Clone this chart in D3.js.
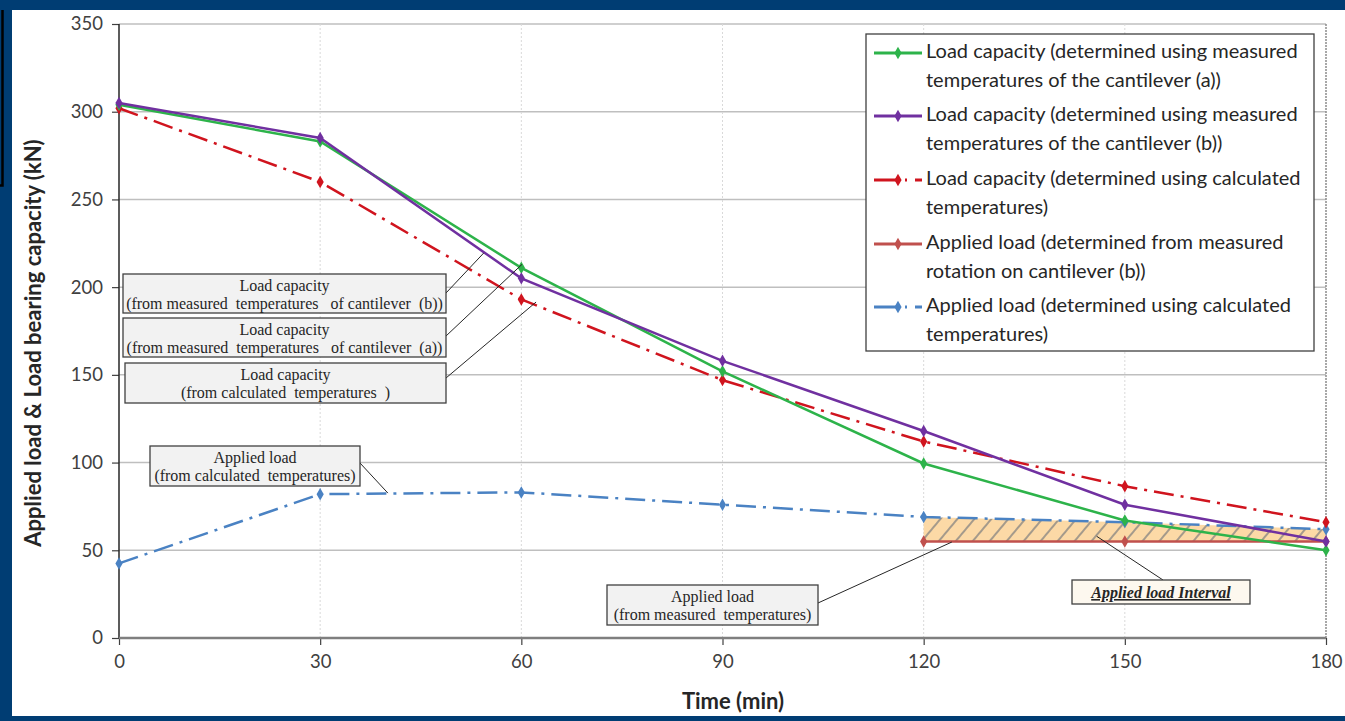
<!DOCTYPE html>
<html>
<head>
<meta charset="utf-8">
<script src="https://cdn.jsdelivr.net/npm/d3@7"></script>
<style>
  body { margin: 0; background: #003d73; }
  svg { display: block; }
</style>
</head>
<body>
<script>
// data
const times = [0, 30, 60, 90, 120, 150, 180];
const capA = [304, 283, 211, 152, 99.5, 67, 50];      // measured temps, cantilever (a)
const capB = [305, 285, 205, 158, 118, 76, 55];       // measured temps, cantilever (b)
const capCalc = [302, 260, 193, 147, 112, 86.5, 66];  // calculated temps
const loadMeasTimes = [120, 150, 180];
const loadMeas = [55, 55, 55];                        // applied load, measured rotation
const loadCalc = [42.5, 82, 83, 76, 69, 66, 62];      // applied load, calculated temps
const yTicks = [0, 50, 100, 150, 200, 250, 300, 350];
const xTicks = [0, 30, 60, 90, 120, 150, 180];

const legendLabels = [
  ["Load capacity (determined using measured", "temperatures of the cantilever (a))"],
  ["Load capacity (determined using measured", "temperatures of the cantilever (b))"],
  ["Load capacity (determined using calculated", "temperatures)"],
  ["Applied load (determined from measured", "rotation on cantilever (b))"],
  ["Applied load (determined using calculated", "temperatures)"]
];

const W = 1345, H = 721;
const svg = d3.select("body").append("svg").attr("width", W).attr("height", H);

// frame
svg.append("rect").attr("width", W).attr("height", H).attr("fill", "#003d73");
svg.append("rect").attr("x", 12).attr("y", 10).attr("width", W - 12).attr("height", 706).attr("fill", "#fff");
svg.append("path").attr("d", "M0,185.5 H2.5 V10").attr("fill", "none").attr("stroke", "#000").attr("stroke-width", 2.5);

const x = d3.scaleLinear().domain([0, 180]).range([119, 1326]);
const y = d3.scaleLinear().domain([0, 350]).range([638, 24]);

// hatch pattern for the applied load interval
const defs = svg.append("defs");
const pat = defs.append("pattern")
  .attr("id", "hatch")
  .attr("patternUnits", "userSpaceOnUse")
  .attr("width", 13).attr("height", 20)
  .attr("patternTransform", "rotate(40)");
pat.append("rect").attr("width", 13).attr("height", 20).attr("fill", "#fcd9a6");
pat.append("line").attr("x1", 1).attr("y1", 0).attr("x2", 1).attr("y2", 20)
  .attr("stroke", "#7f7f7f").attr("stroke-width", 1.4);

// grid
const grid = svg.append("g");
grid.selectAll("line.h")
  .data(yTicks.filter(d => d > 0))
  .join("line")
  .attr("x1", x(0)).attr("x2", x(180))
  .attr("y1", d => y(d)).attr("y2", d => y(d))
  .attr("stroke", "#bfbfbf").attr("stroke-width", 1.5);
grid.selectAll("line.v")
  .data(xTicks.filter(d => d > 0 && d < 180))
  .join("line")
  .attr("x1", d => x(d)).attr("x2", d => x(d))
  .attr("y1", y(350)).attr("y2", y(0))
  .attr("stroke", "#d9d9d9").attr("stroke-width", 1).attr("stroke-dasharray", "2,2");
grid.append("line")
  .attr("x1", x(180)).attr("x2", x(180)).attr("y1", y(350)).attr("y2", y(0))
  .attr("stroke", "#8c8c8c").attr("stroke-width", 1.5).attr("stroke-dasharray", "2,1");

// hatched interval between measured load and calculated load, 120..180
const area = d3.area()
  .x(d => x(d[0]))
  .y0(d => y(d[2]))
  .y1(d => y(d[1]));
const intervalData = loadMeasTimes.map((t, i) => [t, loadCalc[times.indexOf(t)], loadMeas[i]]);
svg.append("path").attr("d", area(intervalData)).attr("fill", "url(#hatch)");

// axes
const yAxis = svg.append("g")
  .attr("transform", `translate(${x(0)},0)`)
  .call(d3.axisLeft(y).tickValues(yTicks).tickSize(7).tickPadding(9));
const xAxis = svg.append("g")
  .attr("transform", `translate(0,${y(0)})`)
  .call(d3.axisBottom(x).tickValues(xTicks).tickSize(7).tickPadding(10));
[yAxis, xAxis].forEach(g => {
  g.select(".domain").remove();
  g.selectAll(".tick line").attr("stroke", "#404040").attr("stroke-width", 1.2);
  g.selectAll("text").attr("font-family", "Lato, sans-serif").attr("font-size", 18.5).attr("fill", "#404040");
});
svg.append("line").attr("x1", x(0)).attr("x2", x(0)).attr("y1", y(350)).attr("y2", y(0))
  .attr("stroke", "#262626").attr("stroke-width", 1.5);
svg.append("line").attr("x1", x(0)).attr("x2", x(180)).attr("y1", y(0)).attr("y2", y(0))
  .attr("stroke", "#7f7f7f").attr("stroke-width", 2.5);

svg.append("text")
  .attr("transform", `translate(41,${(y(0) + y(350)) / 2 + 12}) rotate(-90)`)
  .attr("text-anchor", "middle")
  .attr("font-family", "Lato, sans-serif").attr("font-weight", "bold").attr("font-size", 22)
  .attr("fill", "#262626")
  .text("Applied load & Load bearing capacity (kN)");
svg.append("text")
  .attr("x", 733).attr("y", 709)
  .attr("text-anchor", "middle")
  .attr("font-family", "Lato, sans-serif").attr("font-weight", "bold").attr("font-size", 22)
  .attr("fill", "#262626")
  .text("Time (min)");

// series
const series = [
  { t: times, v: capA, color: "#2db34a", dash: null, w: 2.5 },
  { t: times, v: capB, color: "#7030a0", dash: null, w: 2.5 },
  { t: times, v: capCalc, color: "#d0141e", dash: "20,7,3,7", w: 2.5 },
  { t: loadMeasTimes, v: loadMeas, color: "#c0504d", dash: null, w: 2.5 },
  { t: times, v: loadCalc, color: "#4a82c3", dash: "20,7,3,7", w: 2.5 }
];
const line = d3.line().x(d => x(d[0])).y(d => y(d[1]));
const diamond = d3.symbol().type(d3.symbolDiamond).size(45);

// draw in back-to-front order like the figure
[3, 4, 2, 0, 1].forEach(i => {
  const s = series[i];
  const pts = s.t.map((t, j) => [t, s.v[j]]);
  svg.append("path")
    .attr("d", line(pts))
    .attr("fill", "none")
    .attr("stroke", s.color)
    .attr("stroke-width", s.w)
    .attr("stroke-dasharray", s.dash);
  svg.append("g").selectAll("path")
    .data(pts)
    .join("path")
    .attr("transform", d => `translate(${x(d[0])},${y(d[1])})`)
    .attr("d", diamond)
    .attr("fill", s.color);
});

// annotation callouts
function callout(bx, by, bw, bh, lines, lx, ly, tx, ty, opts = {}) {
  svg.append("line")
    .attr("x1", lx).attr("y1", ly).attr("x2", tx).attr("y2", ty)
    .attr("stroke", "#262626").attr("stroke-width", 1);
  svg.append("rect")
    .attr("x", bx).attr("y", by).attr("width", bw).attr("height", bh)
    .attr("fill", opts.fill || "#f2f2f2")
    .attr("stroke", "#404040").attr("stroke-width", 1.3);
  const t = svg.append("text")
    .attr("font-family", "'Liberation Serif', serif")
    .attr("font-size", opts.size || 16)
    .attr("fill", "#262626")
    .attr("text-anchor", "middle")
    .style("white-space", "pre");
  lines.forEach((l, k) => {
    t.append("tspan")
      .attr("x", bx + bw / 2)
      .attr("y", by + (opts.first || 17) + k * 18)
      .text(l);
  });
  return t;
}

callout(123, 274, 323, 39, ["Load capacity", "(from measured  temperatures   of cantilever  (b))"],
  446, 293, x(54.4), y(219.5));
callout(123, 318, 323, 39, ["Load capacity", "(from measured  temperatures   of cantilever  (a))"],
  446, 336, x(60.1), y(213));
callout(125, 363, 321, 40, ["Load capacity", "(from calculated  temperatures  )"],
  446, 378, x(62.2), y(191.5));
callout(150, 446, 210, 40, ["Applied load", "(from calculated  temperatures)"],
  360, 463, x(40.1), y(82.6));
callout(607, 585, 211, 40, ["Applied load", "(from measured  temperatures)"],
  818, 603, x(124.2), y(54.7));
callout(1072, 580, 178, 24, ["Applied load Interval"],
  1163, 580, x(145.8), y(58), { fill: "#fdf8ef", size: 16, first: 18 })
  .attr("font-weight", "bold").attr("font-style", "italic").attr("text-decoration", "underline");

// legend
const lg = svg.append("g").attr("transform", "translate(866,34)");
lg.append("rect").attr("width", 448).attr("height", 317)
  .attr("fill", "#fff").attr("stroke", "#404040").attr("stroke-width", 1.3);
const rowY = [24, 87, 151, 215, 278];
legendLabels.forEach((lab, i) => {
  const s = series[i];
  const g = lg.append("g").attr("transform", `translate(0,${rowY[i]})`);
  g.append("line").attr("x1", 8).attr("x2", 56).attr("y1", -5).attr("y2", -5)
    .attr("stroke", s.color).attr("stroke-width", 3)
    .attr("stroke-dasharray", s.dash ? "26,5,2,8,8" : null);
  g.append("path").attr("transform", "translate(32,-5)").attr("d", diamond).attr("fill", s.color);
  const t = g.append("text").attr("font-family", "Lato, sans-serif").attr("font-size", 20).attr("fill", "#262626");
  lab.forEach((l, k) => t.append("tspan").attr("x", 60).attr("y", k * 28.5).text(l));
});
</script>
</body>
</html>
